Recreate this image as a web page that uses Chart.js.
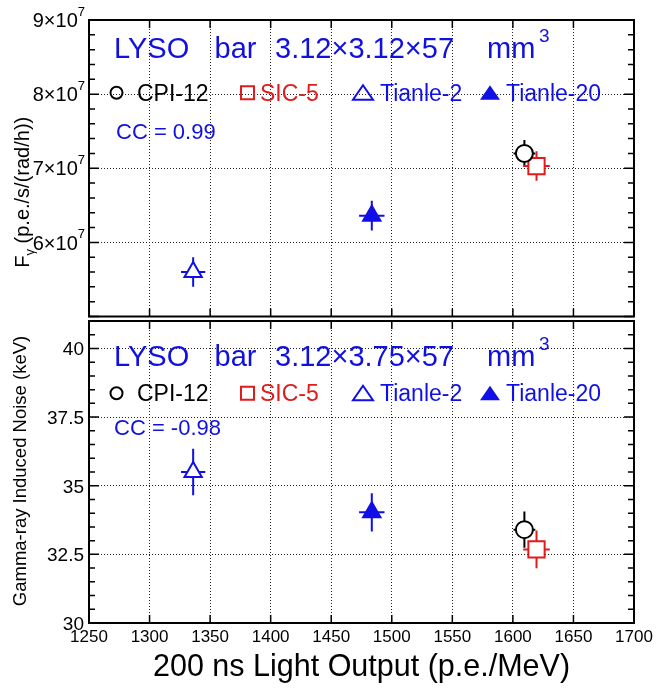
<!DOCTYPE html>
<html lang="en">
<head>
<meta charset="UTF-8">
<script src="https://cdn.jsdelivr.net/npm/chart.js"></script>
<title>LYSO light output vs F_gamma / noise</title>
<style>
    body { margin: 0; background: #fff; }
    #wrap { position: relative; width: 657px; height: 689px; }
    canvas { position: absolute; left: 0; }
    #topChart { top: 0; }
    #botChart { top: 300px; }
</style>
</head>
<body>
<div id="wrap">
    <canvas id="topChart" width="657" height="330"></canvas>
    <canvas id="botChart" width="657" height="389"></canvas>
</div>
<script>
    // data
    const materials = ['CPI-12', 'SIC-5', 'Tianle-2', 'Tianle-20'];
    const lightOutput = [1609.5, 1619.5, 1336, 1483.5];
    const lightOutputErr = [9, 11, 10, 10.5];
    const fGamma = [7.2e7, 7.03e7, 5.6e7, 6.36e7];
    const fGammaErr = [0.18e7, 0.2e7, 0.2e7, 0.2e7];
    const noise = [33.4, 32.68, 35.5, 34.03];
    const noiseErr = [0.66, 0.69, 0.85, 0.7];

    const xTicks = [1250, 1300, 1350, 1400, 1450, 1500, 1550, 1600, 1650, 1700];
    const fGammaTicks = [5e7, 6e7, 7e7, 8e7, 9e7];
    const noiseTicks = [30, 32.5, 35, 37.5, 40];

    // styles
    const colors = ['#000000', '#e01b1b', '#1010e6', '#1010e6'];
    const pointStyles = ['circle', 'rect', 'triangle', 'triangle'];
    const filled = [false, false, false, true];
    const radii = [8.5, 11.5, 10, 10];

    const FONT = '"Liberation Sans", Arial, sans-serif';
    const BLUE = '#1010e0';

    function makeDatasets(yVals, yErrs) {
        return materials.map(function (m, i) {
            return {
                label: m,
                data: [{ x: lightOutput[i], y: yVals[i], ex: lightOutputErr[i], ey: yErrs[i] }],
                pointStyle: pointStyles[i],
                pointRadius: radii[i],
                borderWidth: 2,
                borderColor: colors[i],
                backgroundColor: filled[i] ? colors[i] : '#ffffff'
            };
        });
    }

    function txt(ctx, s, x, y, size, color, align) {
        ctx.font = size + 'px ' + FONT;
        ctx.fillStyle = color;
        ctx.textAlign = align || 'left';
        ctx.textBaseline = 'alphabetic';
        ctx.fillText(s, x, y);
        return ctx.measureText(s).width;
    }

    function legendMarker(ctx, kind, x, y, color) {
        ctx.save();
        ctx.lineWidth = 2;
        ctx.strokeStyle = color;
        ctx.fillStyle = color;
        ctx.beginPath();
        if (kind == 'circle') {
            ctx.arc(x, y, 6, 0, Math.PI * 2);
            ctx.stroke();
        } else if (kind == 'rect') {
            ctx.rect(x - 6.5, y - 6.5, 13, 13);
            ctx.stroke();
        } else {
            ctx.moveTo(x, y - 7.5);
            ctx.lineTo(x + 10, y + 7);
            ctx.lineTo(x - 10, y + 7);
            ctx.closePath();
            if (kind == 'tri-fill') ctx.fill(); else ctx.stroke();
        }
        ctx.restore();
    }

    const panelDecor = {
        id: 'panelDecor',
        beforeDatasetsDraw(chart) {
            // error bars
            const ctx = chart.ctx;
            const xs = chart.scales.x, ys = chart.scales.y;
            ctx.save();
            ctx.lineWidth = 2;
            chart.data.datasets.forEach(function (ds) {
                ctx.strokeStyle = ds.borderColor;
                ds.data.forEach(function (d) {
                    const px = xs.getPixelForValue(d.x), py = ys.getPixelForValue(d.y);
                    ctx.beginPath();
                    ctx.moveTo(xs.getPixelForValue(d.x - d.ex), py);
                    ctx.lineTo(xs.getPixelForValue(d.x + d.ex), py);
                    ctx.moveTo(px, ys.getPixelForValue(d.y - d.ey));
                    ctx.lineTo(px, ys.getPixelForValue(d.y + d.ey));
                    ctx.stroke();
                });
            });
            ctx.restore();
        },
        afterDraw(chart, args, o) {
            const ctx = chart.ctx;
            const a = chart.chartArea;
            const xs = chart.scales.x, ys = chart.scales.y;
            ctx.save();

            // frame
            ctx.strokeStyle = '#000';
            ctx.lineWidth = 2;
            ctx.strokeRect(a.left, a.top, a.right - a.left, a.bottom - a.top);

            // ticks pointing inwards
            ctx.lineWidth = 1.5;
            ctx.beginPath();
            xTicks.forEach(function (v) {
                const px = xs.getPixelForValue(v);
                ctx.moveTo(px, a.bottom); ctx.lineTo(px, a.bottom - 8);
                ctx.moveTo(px, a.top); ctx.lineTo(px, a.top + 8);
            });
            for (let v = ys.min; v <= ys.max + o.minorStep / 2; v += o.minorStep) {
                const py = ys.getPixelForValue(v);
                const major = o.yTicks.some(function (t) { return Math.abs(t - v) < o.minorStep / 10; });
                const len = major ? 10 : 6;
                ctx.moveTo(a.left, py); ctx.lineTo(a.left + len, py);
                ctx.moveTo(a.right, py); ctx.lineTo(a.right - len, py);
            }
            ctx.stroke();

            // y tick labels
            o.yTicks.forEach(function (v) {
                if (o.skipLabel && v == o.skipLabel) return;
                const py = ys.getPixelForValue(v);
                if (o.exp) {
                    ctx.font = '13px ' + FONT;
                    const ew = ctx.measureText(String(o.exp)).width;
                    txt(ctx, String(o.exp), 85, py - 4.5, 13, '#000', 'right');
                    txt(ctx, (v / Math.pow(10, o.exp)) + '×10', 85 - ew, py + 7.2, 20, '#000', 'right');
                } else {
                    txt(ctx, String(v), 84, py + 6.8, 19, '#000', 'right');
                }
            });

            // y axis title
            const fs = o.yTitleSize;
            ctx.save();
            ctx.translate(o.yTitleX, (a.top + a.bottom) / 2 + o.yTitleShift);
            ctx.rotate(-Math.PI / 2);
            ctx.font = fs + 'px ' + FONT;
            if (o.yTitleSub) {
                const w1 = ctx.measureText(o.yTitleMain).width;
                ctx.font = '13px ' + FONT;
                const w2 = ctx.measureText(o.yTitleSub).width;
                ctx.font = fs + 'px ' + FONT;
                const w3 = ctx.measureText(o.yTitleRest).width;
                let x0 = -(w1 + w2 + w3) / 2;
                txt(ctx, o.yTitleMain, x0, 0, fs, '#000');
                txt(ctx, o.yTitleSub, x0 + w1, 5, 13, '#000');
                txt(ctx, o.yTitleRest, x0 + w1 + w2, 0, fs, '#000');
            } else {
                txt(ctx, o.yTitleMain, 0, 0, fs, '#000', 'center');
            }
            ctx.restore();

            // panel title
            const L = a.left, T = a.top;
            txt(ctx, 'LYSO', L + 25, T + o.titleY, 29, BLUE);
            txt(ctx, 'bar', L + 125.5, T + o.titleY, 29, BLUE);
            txt(ctx, o.dims, L + 186, T + o.titleY, 29, BLUE);
            txt(ctx, 'mm', L + 398, T + o.titleY, 29, BLUE);
            txt(ctx, '3', L + 450, T + o.titleY - 16, 19, BLUE);

            // legend
            const ly = T + o.legendY;
            legendMarker(ctx, 'circle', L + 27.5, ly, colors[0]);
            txt(ctx, materials[0], L + 48, ly + 8.2, 23, colors[0]);
            legendMarker(ctx, 'rect', L + 158.5, ly, colors[1]);
            txt(ctx, materials[1], L + 171, ly + 8.2, 23, colors[1]);
            legendMarker(ctx, 'tri', L + 274, ly, colors[2]);
            txt(ctx, materials[2], L + 291, ly + 8.2, 23, colors[2]);
            legendMarker(ctx, 'tri-fill', L + 401, ly, colors[3]);
            txt(ctx, materials[3], L + 417, ly + 8.2, 23, colors[3]);

            // correlation coefficient
            txt(ctx, o.cc, L + o.ccX, T + o.ccY, 22, BLUE);

            // x axis title (bottom panel only)
            if (o.xTitle) {
                txt(ctx, o.xTitle, (a.left + a.right) / 2, a.bottom + 53, 30.5, '#000', 'center');
            }
            ctx.restore();
        }
    };

    function gridOpts() {
        return {
            grid: { color: '#222', lineWidth: 1, drawTicks: false },
            border: { display: false, dash: [1, 2] }
        };
    }

    function makeChart(id, yVals, yErrs, yTicks, yMin, yMax, xHeight, padTop, padBottom, decor) {
        const xOpts = Object.assign(gridOpts(), {
            type: 'linear',
            min: 1250,
            max: 1700,
            afterBuildTicks: function (s) { s.ticks = xTicks.map(function (v) { return { value: v }; }); },
            afterFit: function (s) { s.height = xHeight; s.paddingLeft = 0; s.paddingRight = 0; },
            ticks: {
                display: xHeight > 0,
                color: '#000',
                padding: 4,
                font: { size: 17, family: FONT },
                callback: function (v) { return String(v); }
            }
        });
        const yOpts = Object.assign(gridOpts(), {
            type: 'linear',
            min: yMin,
            max: yMax,
            afterBuildTicks: function (s) { s.ticks = yTicks.map(function (v) { return { value: v }; }); },
            afterFit: function (s) { s.width = 89; },
            ticks: { display: false }
        });
        return new Chart(document.getElementById(id), {
            type: 'scatter',
            data: { datasets: makeDatasets(yVals, yErrs) },
            options: {
                responsive: false,
                animation: false,
                events: [],
                layout: { padding: { left: 0, right: 23, top: padTop, bottom: padBottom } },
                scales: { x: xOpts, y: yOpts },
                plugins: {
                    legend: { display: false },
                    tooltip: { enabled: false },
                    panelDecor: decor
                }
            },
            plugins: [panelDecor]
        });
    }

    makeChart('topChart', fGamma, fGammaErr, fGammaTicks, 5e7, 9e7, 0, 20, 10, {
        yTicks: fGammaTicks,
        minorStep: 0.2e7,
        exp: 7,
        skipLabel: 5e7,
        yTitleMain: 'F',
        yTitleSub: 'γ',
        yTitleRest: ' (p.e./s/(rad/h))',
        yTitleSize: 20,
        yTitleX: 29,
        yTitleShift: 24,
        dims: '3.12×3.12×57',
        titleY: 38.4,
        legendY: 72.8,
        cc: 'CC = 0.99',
        ccX: 27,
        ccY: 119
    });

    makeChart('botChart', noise, noiseErr, noiseTicks, 30, 41, 66, 21, 0, {
        yTicks: noiseTicks,
        minorStep: 0.5,
        exp: 0,
        yTitleMain: 'Gamma-ray Induced Noise (keV)',
        yTitleSize: 18.5,
        yTitleX: 26,
        yTitleShift: -1,
        dims: '3.12×3.75×57',
        titleY: 44.5,
        legendY: 72.2,
        cc: 'CC = -0.98',
        ccX: 25,
        ccY: 114,
        xTitle: '200 ns Light Output (p.e./MeV)'
    });
</script>
</body>
</html>
